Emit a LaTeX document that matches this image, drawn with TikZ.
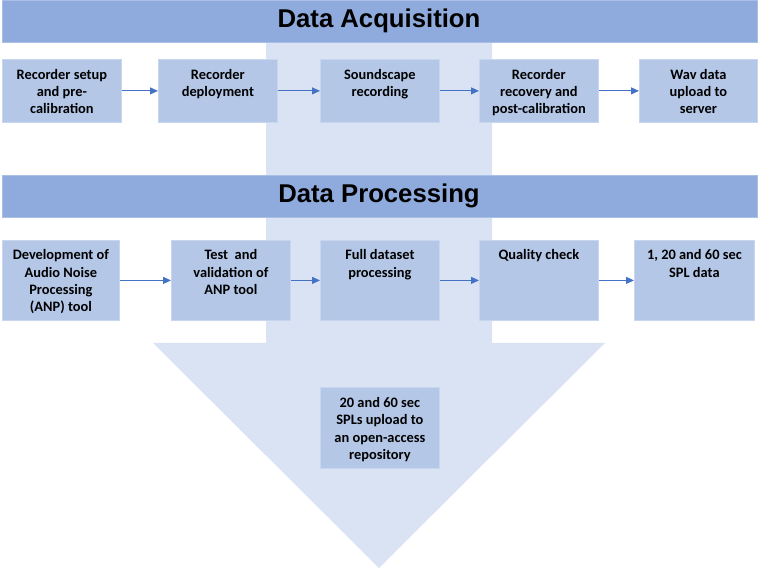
\documentclass[tikz,border=0pt]{standalone}
\usepackage{fontspec}
\setmainfont{Carlito}
\newfontfamily\hdfont{Liberation Sans}
\usetikzlibrary{arrows.meta}
\definecolor{hdblue}{HTML}{8FAADC}
\definecolor{hdedge}{HTML}{A9BFE6}
\definecolor{boxblue}{HTML}{B4C7E7}
\definecolor{boxedge}{HTML}{C8D6EF}
\definecolor{backblue}{HTML}{DAE3F3}
\definecolor{arrblue}{HTML}{4472C4}
\newcommand\bcont[4]{\parbox[t][#2pt][t]{#1pt}{\centering\rule{0pt}{#3pt}#4}}
\begin{document}
\begin{tikzpicture}[x=1pt,y=-1pt,
  box/.style={fill=boxblue,draw=boxedge,line width=0.8pt,inner sep=0pt,anchor=north west,
    font=\fontsize{14.4}{17.3}\selectfont\bfseries},
  header/.style={fill=hdblue,draw=hdedge,line width=0.8pt},
  htext/.style={font=\hdfont\fontsize{25.7}{30}\selectfont\bfseries,inner sep=0pt},
  flow/.style={draw=arrblue,line width=0.9pt,-{Triangle[length=8pt,width=7pt]}}]
\useasboundingbox (0,0) rectangle (758,569);
% backdrop arrow
\fill[backblue] (266,0) -- (492,0) -- (492,343) -- (605,343) -- (379,568) -- (153,343) -- (266,343) -- cycle;
% headers
\draw[header] (2,0.5) rectangle (757,42);
\node[htext] (h1) at (379,21) {Data Acquisition};
\draw[header] (2,175) rectangle (757,217);
\node[htext] (h2) at (379,196) {Data Processing};
% row 1
\node[box] (a1) at (2,59) {\bcont{119}{63}{20}{Recorder setup\\ and pre-\\calibration}};
\node[box] (a2) at (158,59) {\bcont{119}{63}{20}{Recorder\\deployment}};
\node[box] (a3) at (320,59) {\bcont{119}{63}{20}{Soundscape\\recording}};
\node[box] (a4) at (479,59) {\bcont{119}{63}{20}{Recorder\\recovery and\\post-calibration}};
\node[box] (a5) at (639,59) {\bcont{118}{63}{20}{Wav data\\upload to\\server}};
\draw[flow] (a1) -- (a2);
\draw[flow] (a2) -- (a3);
\draw[flow] (a3) -- (a4);
\draw[flow] (a4) -- (a5);
% row 2
\node[box] (p1) at (2,240) {\bcont{117}{80}{19.5}{Development of\\Audio Noise\\Processing\\(ANP) tool}};
\node[box] (p2) at (171,240) {\bcont{119}{80}{19.5}{Test\ \ and\\validation of\\ANP tool}};
\node[box] (p3) at (320,240) {\bcont{119}{80}{19.5}{Full dataset\\processing}};
\node[box] (p4) at (479,240) {\bcont{119}{80}{19.5}{Quality check}};
\node[box] (p5) at (634,240) {\bcont{120}{80}{19.5}{1, 20 and 60 sec\\SPL data}};
\draw[flow] (p1) -- (p2);
\draw[flow] (p2) -- (p3);
\draw[flow] (p3) -- (p4);
\draw[flow] (p4) -- (p5);
% bottom
\node[box] (u) at (320,387) {\bcont{119}{81}{20}{20 and 60 sec\\SPLs upload to\\an open-access\\repository}};
\end{tikzpicture}
\end{document}
